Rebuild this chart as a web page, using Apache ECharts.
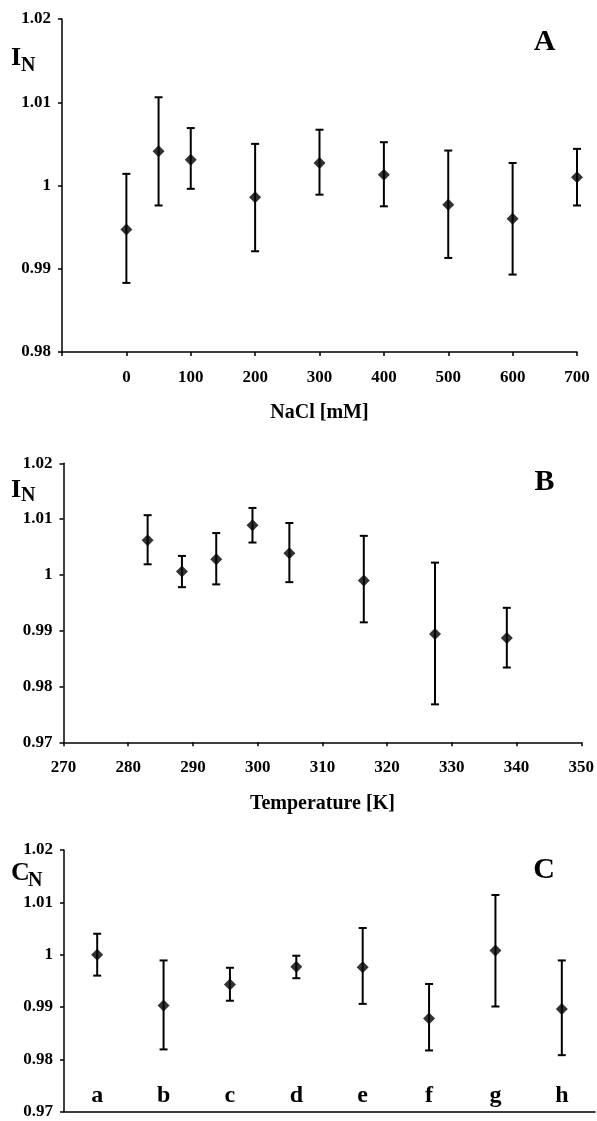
<!doctype html>
<html>
<head>
<meta charset="UTF-8">
<title>I_N / C_N</title>
<script src="https://cdn.jsdelivr.net/npm/echarts@6/dist/echarts.min.js"></script>
<style>
  html, body { margin: 0; padding: 0; background: #fff; }
  #chart { width: 597px; height: 1121px; }
</style>
</head>
<body>
<div id="chart"></div>
<script>
// panel A: NaCl concentration
var naclConc = [0, 50, 100, 200, 300, 400, 500, 600, 700];
var naclMean = [0.9947, 1.0041, 1.0031, 0.9986, 1.0027, 1.0013, 0.9977, 0.9960, 1.0010];
var naclLow  = [0.9883, 0.9976, 0.9996, 0.9921, 0.9989, 0.9975, 0.9913, 0.9893, 0.9976];
var naclHigh = [1.0014, 1.0106, 1.0069, 1.0050, 1.0067, 1.0052, 1.0042, 1.0027, 1.0044];

// panel B: temperature
var tempK    = [283, 288.3, 293.6, 299.2, 304.9, 316.4, 327.4, 338.5];
var tempMean = [1.0062, 1.0006, 1.0028, 1.0089, 1.0039, 0.9990, 0.9894, 0.9887];
var tempLow  = [1.0019, 0.9978, 0.9983, 1.0058, 0.9987, 0.9915, 0.9768, 0.9834];
var tempHigh = [1.0107, 1.0034, 1.0075, 1.0120, 1.0093, 1.0070, 1.0022, 0.9941];

// panel C: samples
var sampleCats = ['a', 'b', 'c', 'd', 'e', 'f', 'g', 'h'];
var sampleMean = [1.0000, 0.9903, 0.9943, 0.9977, 0.9976, 0.9878, 1.0008, 0.9896];
var sampleLow  = [0.9960, 0.9819, 0.9912, 0.9955, 0.9906, 0.9817, 0.9901, 0.9808];
var sampleHigh = [1.0040, 0.9989, 0.9975, 0.9998, 1.0051, 0.9944, 1.0114, 0.9989];

var FONT = '"Liberation Serif", "Times New Roman", serif';

function pairs(xs, ys) {
  return xs.map(function(x, i) { return [x, ys[i]]; });
}
function triples(xs, lo, hi) {
  return xs.map(function(x, i) { return [x, lo[i], hi[i]]; });
}

function errorBar(params, api) {
  var x = api.value(0);
  var top = api.coord([x, api.value(2)]);
  var bot = api.coord([x, api.value(1)]);
  var hw = 4;
  var st = { stroke: '#000', lineWidth: 2 };
  return {
    type: 'group',
    children: [
      { type: 'line', shape: { x1: top[0], y1: top[1], x2: bot[0], y2: bot[1] }, style: st },
      { type: 'line', shape: { x1: top[0] - hw, y1: top[1], x2: top[0] + hw, y2: top[1] }, style: st },
      { type: 'line', shape: { x1: bot[0] - hw, y1: bot[1], x2: bot[0] + hw, y2: bot[1] }, style: st }
    ]
  };
}

function yAxisFor(idx, min) {
  return {
    gridIndex: idx,
    type: 'value',
    min: min,
    max: 1.02,
    interval: 0.01,
    splitLine: { show: false },
    axisLine: { show: true, onZero: false, lineStyle: { color: '#000', width: 1.5 } },
    axisTick: { show: true, length: 4, lineStyle: { color: '#000', width: 1.5 } },
    axisLabel: {
      margin: 11,
      color: '#000',
      fontFamily: FONT,
      fontWeight: 'bold',
      fontSize: 17,
      formatter: function(v) { return String(+v.toFixed(2)); }
    }
  };
}

var axisLineStyle = { show: true, onZero: false, lineStyle: { color: '#000', width: 1.5 } };
var tickStyle = { show: true, length: 4, lineStyle: { color: '#000', width: 1.5 } };
var labelStyle = { color: '#000', fontFamily: FONT, fontWeight: 'bold', fontSize: 17, margin: 17 };
var nameStyle = { color: '#000', fontFamily: FONT, fontWeight: 'bold', fontSize: 20 };

function letter(txt, x, y, size) {
  return {
    type: 'text', x: x, y: y,
    style: {
      text: txt, fill: '#000', font: 'bold ' + size + 'px ' + FONT,
      textAlign: 'left', textVerticalAlign: 'middle'
    }
  };
}
function bigLetter(txt, x, y) {
  return {
    type: 'text', x: x, y: y,
    style: {
      text: txt, fill: '#000', font: 'bold 30px ' + FONT,
      textAlign: 'center', textVerticalAlign: 'middle'
    }
  };
}

var chart = echarts.init(document.getElementById('chart'));
var option = {
  backgroundColor: '#fff',
  animation: false,
  grid: [
    { left: 62, top: 19, width: 515, height: 333 },
    { left: 63.5, top: 463.3, width: 520.5, height: 279 },
    { left: 64, top: 850, width: 531, height: 261.7 }
  ],
  xAxis: [
    {
      gridIndex: 0, type: 'value', min: -100, max: 700, interval: 100,
      splitLine: { show: false },
      axisLine: axisLineStyle, axisTick: tickStyle,
      axisLabel: Object.assign({}, labelStyle, {
        formatter: function(v) { return v < 0 ? '' : String(v); }
      }),
      name: 'NaCl [mM]', nameLocation: 'middle', nameGap: 51, nameTextStyle: nameStyle
    },
    {
      gridIndex: 1, type: 'value', min: 270, max: 350, interval: 10,
      splitLine: { show: false },
      axisLine: axisLineStyle, axisTick: tickStyle,
      axisLabel: labelStyle,
      name: 'Temperature [K]', nameLocation: 'middle', nameGap: 52, nameTextStyle: nameStyle
    },
    {
      gridIndex: 2, type: 'category', data: sampleCats, boundaryGap: true,
      axisLine: axisLineStyle,
      axisTick: { show: false },
      axisLabel: {
        inside: true, margin: 4, color: '#000',
        fontFamily: FONT, fontWeight: 'bold', fontSize: 24
      }
    }
  ],
  yAxis: [yAxisFor(0, 0.98), yAxisFor(1, 0.97), yAxisFor(2, 0.97)],
  series: [
    { type: 'custom', xAxisIndex: 0, yAxisIndex: 0, renderItem: errorBar,
      data: triples(naclConc, naclLow, naclHigh), z: 2 },
    { type: 'scatter', xAxisIndex: 0, yAxisIndex: 0, symbol: 'diamond', symbolSize: 12,
      itemStyle: { color: '#000' }, data: pairs(naclConc, naclMean), z: 3 },
    { type: 'custom', xAxisIndex: 1, yAxisIndex: 1, renderItem: errorBar,
      data: triples(tempK, tempLow, tempHigh), z: 2 },
    { type: 'scatter', xAxisIndex: 1, yAxisIndex: 1, symbol: 'diamond', symbolSize: 12,
      itemStyle: { color: '#000' }, data: pairs(tempK, tempMean), z: 3 },
    { type: 'custom', xAxisIndex: 2, yAxisIndex: 2, renderItem: errorBar,
      data: triples(sampleCats.map(function(c, i) { return i; }), sampleLow, sampleHigh), z: 2 },
    { type: 'scatter', xAxisIndex: 2, yAxisIndex: 2, symbol: 'diamond', symbolSize: 12,
      itemStyle: { color: '#000' }, data: pairs(sampleCats.map(function(c, i) { return i; }), sampleMean), z: 3 }
  ],
  graphic: [
    letter('I', 11, 58, 26), letter('N', 21, 66, 20),
    letter('I', 11, 490, 26), letter('N', 21, 496, 20),
    letter('C', 11, 873, 26), letter('N', 28, 881, 20),
    bigLetter('A', 544.5, 42),
    bigLetter('B', 544.5, 482.5),
    bigLetter('C', 544, 870)
  ]
};
chart.setOption(option);
</script>
</body>
</html>
